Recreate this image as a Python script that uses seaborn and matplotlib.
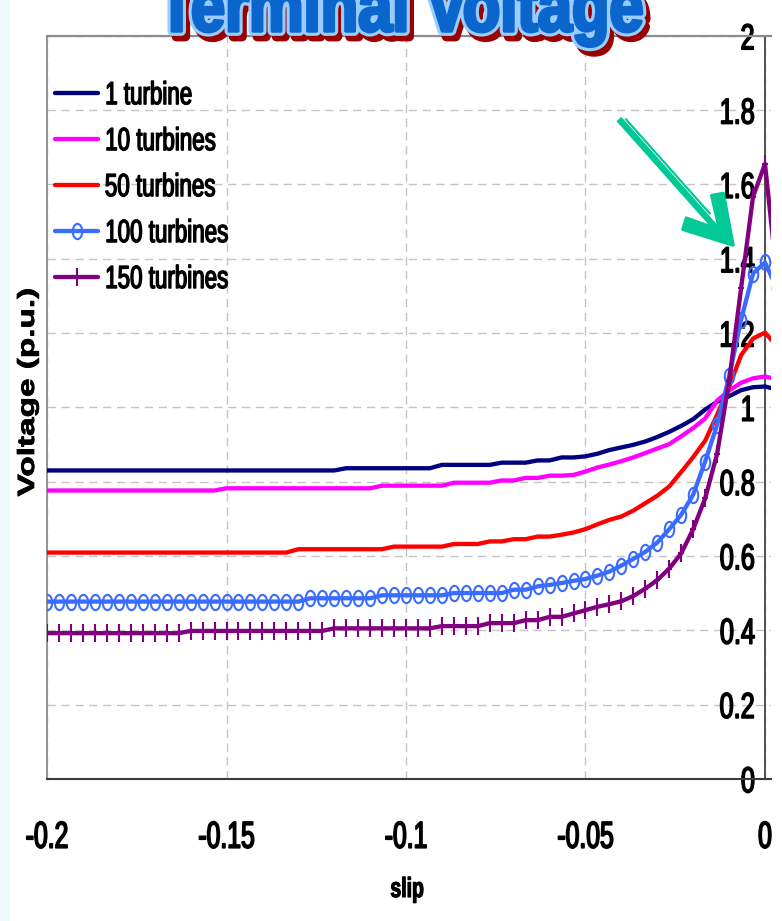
import matplotlib
matplotlib.use("Agg")
import matplotlib.pyplot as plt
import matplotlib.patheffects as pe
from matplotlib.path import Path
from matplotlib.patches import Polygon, Rectangle
from matplotlib.lines import Line2D
from matplotlib.transforms import Affine2D
from matplotlib import font_manager as fm
import numpy as np
import pandas as pd
import seaborn as sns

# ---- data -------------------------------------------------------------
slip = [-0.2, -0.19667, -0.19333, -0.19, -0.18667, -0.18333, -0.18, -0.17667, -0.17333, -0.17,
        -0.16667, -0.16333, -0.16, -0.15667, -0.15333, -0.15, -0.14667, -0.14333, -0.14, -0.13667,
        -0.13333, -0.13, -0.12667, -0.12333, -0.12, -0.11667, -0.11333, -0.11, -0.10667, -0.10333,
        -0.1, -0.09667, -0.09333, -0.09, -0.08667, -0.08333, -0.08, -0.07667, -0.07333, -0.07,
        -0.06667, -0.06333, -0.06, -0.05667, -0.05333, -0.05, -0.04667, -0.04333, -0.04, -0.03667,
        -0.03333, -0.03, -0.02667, -0.02333, -0.02, -0.01667, -0.01333, -0.01, -0.00667, -0.00333,
        0.0, 0.00333]

v_1 = [0.830, 0.830, 0.830, 0.830, 0.830, 0.830, 0.830, 0.830, 0.830, 0.830,
       0.830, 0.830, 0.830, 0.830, 0.830, 0.830, 0.830, 0.830, 0.830, 0.830,
       0.830, 0.830, 0.830, 0.830, 0.830, 0.836, 0.836, 0.836, 0.836, 0.836,
       0.836, 0.836, 0.836, 0.845, 0.845, 0.845, 0.845, 0.845, 0.851, 0.851,
       0.851, 0.857, 0.857, 0.865, 0.865, 0.868, 0.875, 0.885, 0.892, 0.899,
       0.908, 0.920, 0.934, 0.950, 0.968, 0.994, 1.015, 1.030, 1.046, 1.054,
       1.056, 1.048]

v_10 = [0.776, 0.776, 0.776, 0.776, 0.776, 0.776, 0.776, 0.776, 0.776, 0.776,
        0.776, 0.776, 0.776, 0.776, 0.776, 0.782, 0.782, 0.782, 0.782, 0.782,
        0.782, 0.782, 0.782, 0.782, 0.782, 0.782, 0.782, 0.782, 0.789, 0.789,
        0.789, 0.789, 0.789, 0.789, 0.797, 0.797, 0.797, 0.797, 0.803, 0.803,
        0.810, 0.810, 0.816, 0.816, 0.818, 0.827, 0.838, 0.846, 0.855, 0.865,
        0.877, 0.889, 0.901, 0.922, 0.944, 0.970, 1.018, 1.045, 1.066, 1.078,
        1.083, 1.075]

v_50 = [0.609, 0.609, 0.609, 0.609, 0.609, 0.609, 0.609, 0.609, 0.609, 0.609,
        0.609, 0.609, 0.609, 0.609, 0.609, 0.609, 0.609, 0.609, 0.609, 0.609,
        0.609, 0.618, 0.618, 0.618, 0.618, 0.618, 0.618, 0.618, 0.618, 0.625,
        0.625, 0.625, 0.625, 0.625, 0.632, 0.632, 0.632, 0.639, 0.639, 0.645,
        0.645, 0.652, 0.652, 0.657, 0.663, 0.672, 0.685, 0.697, 0.706, 0.722,
        0.742, 0.762, 0.787, 0.826, 0.866, 0.910, 0.980, 1.055, 1.140, 1.185,
        1.201, 1.165]

v_100 = [0.477, 0.477, 0.477, 0.477, 0.477, 0.477, 0.477, 0.477, 0.477, 0.477,
         0.477, 0.477, 0.477, 0.477, 0.477, 0.477, 0.477, 0.477, 0.477, 0.477,
         0.477, 0.477, 0.486, 0.486, 0.486, 0.486, 0.486, 0.486, 0.494, 0.494,
         0.494, 0.494, 0.494, 0.494, 0.500, 0.500, 0.500, 0.500, 0.500, 0.509,
         0.509, 0.518, 0.522, 0.527, 0.533, 0.538, 0.547, 0.558, 0.574, 0.592,
         0.611, 0.636, 0.672, 0.711, 0.765, 0.854, 0.953, 1.083, 1.235, 1.360,
         1.390, 1.320]

v_150 = [0.392, 0.392, 0.392, 0.392, 0.392, 0.392, 0.392, 0.392, 0.392, 0.392,
         0.392, 0.392, 0.398, 0.398, 0.398, 0.398, 0.398, 0.398, 0.398, 0.398,
         0.398, 0.398, 0.398, 0.398, 0.405, 0.405, 0.405, 0.405, 0.405, 0.405,
         0.405, 0.405, 0.405, 0.411, 0.411, 0.411, 0.411, 0.419, 0.419, 0.419,
         0.427, 0.427, 0.436, 0.436, 0.445, 0.454, 0.463, 0.470, 0.478, 0.492,
         0.512, 0.535, 0.566, 0.607, 0.672, 0.755, 0.875, 1.070, 1.320, 1.567,
         1.655, 1.350]

series_labels = ["1 turbine", "10 turbines", "50 turbines", "100 turbines", "150 turbines"]
series_colors = ["#000080", "#ff00ff", "#ff0000", "#3a6cff", "#800080"]

x_ticks = [-0.2, -0.15, -0.1, -0.05, 0.0]
x_tick_labels = ["-0.2", "-0.15", "-0.1", "-0.05", "0"]
y_ticks = [0.0, 0.2, 0.4, 0.6, 0.8, 1.0, 1.2, 1.4, 1.6, 1.8, 2.0]
y_tick_labels = ["0", "0.2", "0.4", "0.6", "0.8", "1", "1.2", "1.4", "1.6", "1.8", "2"]


# ---- condensed text rendering ------------------------------------------
class Squeeze(pe.AbstractPathEffect):
    """Draw text narrowed horizontally around its left, centre or right edge."""

    def __init__(self, sx=0.7, anchor="center", inner=None):
        super().__init__()
        self.sx = sx
        self.anchor = anchor
        self.inner = inner if inner is not None else [pe.Normal()]

    def draw_path(self, renderer, gc, tpath, affine, rgbFace=None):
        ext = tpath.transformed(affine).get_extents()
        if self.anchor == "left":
            x0 = ext.x0
        elif self.anchor == "right":
            x0 = ext.x1
        else:
            x0 = 0.5 * (ext.x0 + ext.x1)
        squeezed = affine + Affine2D().translate(-x0, 0).scale(self.sx, 1.0).translate(x0, 0)
        for eff in self.inner:
            eff.draw_path(renderer, gc, tpath, squeezed, rgbFace)


def heavy(sx, anchor, weight, color="black"):
    """Condensed text with a thin outline in its own colour to thicken the strokes."""
    return [Squeeze(sx, anchor, inner=[pe.Stroke(linewidth=weight, foreground=color),
                                       pe.Normal()])]


# ---- fonts ------------------------------------------------------------
sns.set_style("white")
installed = {f.name for f in fm.fontManager.ttflist}
base_font = "Liberation Sans" if "Liberation Sans" in installed else "DejaVu Sans"
plt.rcParams["font.family"] = [base_font, "DejaVu Sans"]
plt.rcParams["axes.unicode_minus"] = False
plt.rcParams["text.color"] = "black"

W, H = 782, 921
fig = plt.figure(figsize=(W / 100, H / 100), dpi=100)
fig.patch.set_facecolor("white")
fig.add_artist(Rectangle((0, 0), 10 / W, 1, transform=fig.transFigure,
                         facecolor="#ecfbfc", edgecolor="none", zorder=0))

ax = fig.add_axes([47 / W, 1 - 778.8 / H, 724 / W, 743 / H])
ax.set_facecolor("white")

# ---- series -----------------------------------------------------------
df = pd.DataFrame({"slip": slip, "t1": v_1, "t10": v_10, "t50": v_50,
                   "t100": v_100, "t150": v_150})

circle = Path.unit_circle()
ellipse_marker = Path(circle.vertices * np.array([0.62, 1.0]), circle.codes)
plus_marker = Path([(-0.3, 0), (0.3, 0), (0, -1), (0, 1)],
                   [Path.MOVETO, Path.LINETO, Path.MOVETO, Path.LINETO])

marker_specs = [None, None, None, (ellipse_marker, 11.0), (plus_marker, 13.0)]
handles = []
for col, label, color, mspec in zip(["t1", "t10", "t50", "t100", "t150"],
                                    series_labels, series_colors, marker_specs):
    n_before = len(ax.lines)
    kws = dict(color=color, lw=3.1, solid_joinstyle="round", solid_capstyle="round")
    if mspec is not None:
        kws.update(marker=mspec[0], markersize=mspec[1], mfc="none", mec=color, mew=1.5)
    sns.lineplot(data=df, x="slip", y=col, ax=ax, sort=False, legend=False,
                 errorbar=None, zorder=3, **kws)
    handles.append(ax.lines[n_before])

# ---- axes styling -----------------------------------------------------
ax.set_xlim(-0.2, 6 / 3590)
ax.set_ylim(0, 2)
ax.set_xticks(x_ticks, x_tick_labels)
ax.set_yticks(y_ticks, y_tick_labels)
ax.set_xlabel("")
ax.set_ylabel("")

ax.set_axisbelow(True)
ax.grid(True, color="#c4c4c4", ls=(0, (6, 4)), lw=1.0)

ax.spines["left"].set_position(("data", 0))
ax.spines["left"].set_color("#505050")
ax.spines["left"].set_linewidth(1.4)
ax.spines["right"].set_visible(False)
ax.spines["top"].set_color("#8c8c8c")
ax.spines["top"].set_linewidth(1.6)
ax.spines["bottom"].set_color("#3a3a3a")
ax.spines["bottom"].set_linewidth(1.5)
ax.axvline(-0.2, color="#8c8c8c", lw=1.3, clip_on=False, zorder=2)

ax.tick_params(axis="x", direction="out", length=9.5, width=1.0, color="#3a3a3a",
               pad=20, labelsize=27, labelcolor="black")
ax.tick_params(axis="y", direction="out", length=5, width=1.0, color="#3a3a3a",
               pad=2, labelsize=26, labelcolor="black")

leg = ax.legend(handles=handles, labels=series_labels, loc="upper left",
                bbox_to_anchor=(0.011, 0.939), frameon=False, fontsize=23,
                handlelength=1.35, handletextpad=0.2, labelspacing=0.5,
                borderpad=0, borderaxespad=0)
for txt in leg.get_texts():
    txt.set_color("black")
    txt.set_path_effects(heavy(0.7, "left", 1.0))

for lbl in ax.get_xticklabels():
    lbl.set_path_effects(heavy(0.66, "center", 1.2))
for lbl in ax.get_yticklabels():
    lbl.set_path_effects(heavy(0.7, "right", 1.1))

# ---- labels -----------------------------------------------------------
fig.text(28 / W, 1 - 392 / H, "Voltage (p.u.)", rotation=90, fontsize=24,
         fontweight="bold", ha="center", va="center",
         path_effects=heavy(0.7, "center", 0.6))
fig.text(407 / W, 1 - 890 / H, "slip", fontsize=20, fontweight="bold",
         ha="center", va="center", path_effects=heavy(0.7, "center", 0.8))

title_fx = [
    pe.Stroke(offset=(3, -4), linewidth=7, foreground="#990000"),
    pe.SimplePatchShadow(offset=(3, -4), shadow_rgbFace="#990000", alpha=1.0),
    pe.Stroke(linewidth=7, foreground="#99ccff"),
    pe.Stroke(linewidth=2.5, foreground="#0a66cc"),
    pe.Normal(),
]
fig.text(401 / W, 1 - 31 / H, "Terminal Voltage", fontsize=52,
         fontweight="bold", color="#0a66cc", ha="center", va="baseline",
         path_effects=[Squeeze(0.85, "center", inner=title_fx)], zorder=5)

# ---- pointer arrow ----------------------------------------------------
tip = np.array([733.0, 245.0])
start = np.array([620.0, 118.0])
d = (tip - start) / np.linalg.norm(tip - start)
nrm = np.array([d[1], -d[0]])
shaft_len = np.linalg.norm(tip - start)


def to_fig(a, b):
    p = tip + a * d + b * nrm
    return p[0] / W, 1 - p[1] / H


green = "#00c896"
head = [to_fig(a, b) for a, b in [(0, 0), (-45, -27), (-51, -17), (-20, 0),
                                  (-51, 17), (-45, 27)]]
fig.add_artist(Polygon(head, closed=True, transform=fig.transFigure, facecolor=green,
                       edgecolor=green, lw=2.5, joinstyle="round", zorder=6))
for (a0, a1, b, px_w, col) in [(-shaft_len, -22, -1.5, 6.5, green),
                               (-shaft_len + 4, -38, 3.6, 2.2, green)]:
    p0, p1 = to_fig(a0, b), to_fig(a1, b)
    fig.add_artist(Line2D([p0[0], p1[0]], [p0[1], p1[1]], transform=fig.transFigure,
                          color=col, lw=px_w * 0.72, solid_capstyle="butt", zorder=6))

fig.savefig("out.png", dpi=100, facecolor=fig.get_facecolor())
